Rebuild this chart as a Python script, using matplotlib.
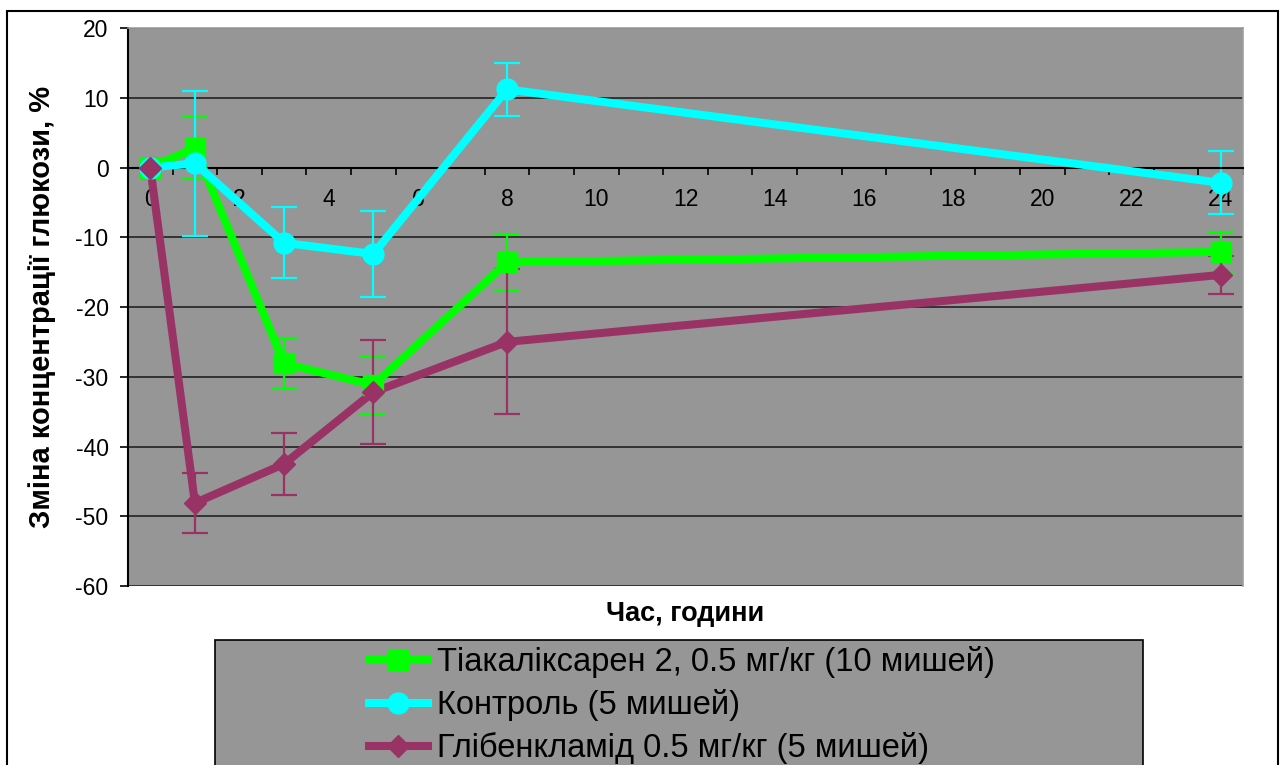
import matplotlib
matplotlib.use("Agg")
import matplotlib.pyplot as plt
from matplotlib.patches import Rectangle
from matplotlib.lines import Line2D
import numpy as np

plt.rcParams['font.family'] = ['Liberation Sans', 'DejaVu Sans']

hours = [0, 1, 3, 5, 8, 24]

thia_vals = [0, 2.8, -28.1, -31.2, -13.6, -12.1]
thia_err = [0, 4.5, 3.7, 4.1, 4.1, 2.9]

ctrl_vals = [0, 0.6, -10.8, -12.4, 11.2, -2.2]
ctrl_err = [0, 10.4, 5.1, 6.1, 3.8, 4.5]

glib_vals = [0, -48.1, -42.5, -32.2, -25.0, -15.4]
glib_err = [0, 4.3, 4.4, 7.5, 10.4, 2.7]

labels = ["Тіакаліксарен 2, 0.5 мг/кг (10 мишей)",
          "Контроль (5 мишей)",
          "Глібенкламід 0.5 мг/кг (5 мишей)"]
x_tick_labels = [str(v) for v in range(0, 25, 2)]
y_ticks = list(range(-60, 21, 10))

series = [
    (thia_vals, thia_err, '#00FF00', 's', 15),
    (ctrl_vals, ctrl_err, '#00FFFF', 'o', 15),
    (glib_vals, glib_err, '#993366', 'D', 11),
]

W, H = 1285, 765
fig = plt.figure(figsize=(W / 100, H / 100), dpi=100)
ax = fig.add_axes([128 / W, 1 - 586 / H, (1243 - 128) / W, (586 - 28) / H])
ax.set_facecolor('#969696')

# error bars first
for vals, err, col, mk, ms in series:
    ax.errorbar(hours, vals, yerr=err, fmt='none', ecolor=col, elinewidth=1.6,
                capsize=9.5, capthick=1.6, zorder=2, clip_on=False)
# lines
for vals, err, col, mk, ms in series:
    ax.plot(hours, vals, color=col, lw=5.8, zorder=3, solid_joinstyle='round', clip_on=False)
# markers
for vals, err, col, mk, ms in series:
    ax.plot(hours, vals, ls='none', marker=mk, ms=ms, color=col, mec=col, zorder=4, clip_on=False)

ax.set_xlim(-0.5, 24.5)
ax.set_ylim(-60, 20)
ax.set_yticks(y_ticks)
ax.set_yticklabels([str(v) for v in y_ticks], fontsize=16.5)
ax.yaxis.grid(True, color='#222222', lw=1.2)
ax.set_axisbelow(True)

ax.spines['bottom'].set_position(('data', 0))
ax.spines['bottom'].set_linewidth(1.5)
ax.spines['left'].set_linewidth(1.5)
for s in ['top', 'right']:
    ax.spines[s].set_color('#a0a0a0')
    ax.spines[s].set_linewidth(1.2)

# ticks at half integers, labels at even integers
ax.set_xticks(np.arange(0.5, 24.6, 1.0))
ax.set_xticklabels([])
ax.tick_params(axis='x', which='major', direction='out', length=5, width=1.2)
ax.set_xticks(list(range(0, 25, 2)), minor=True)
ax.set_xticklabels(x_tick_labels, minor=True, fontsize=16.5)
ax.tick_params(axis='x', which='minor', length=0, pad=15)
ax.tick_params(axis='y', direction='out', length=6, width=1.2, pad=8)

ax.set_xlabel("Час, години", fontsize=19.5, fontweight='bold')
ax.xaxis.set_label_coords(0.5, -0.05)
ax.xaxis.label.set_va('center')
ax.set_ylabel("Зміна концентрації глюкози, %", fontsize=21, fontweight='bold')
ax.yaxis.set_label_coords(-0.077, 0.5)
ax.yaxis.label.set_va('center')

# figure border
fig.add_artist(Rectangle((7 / W, -0.05), (1278 - 7) / W, 1 - 11 / H + 0.05,
                         transform=fig.transFigure, fill=False, ec='black', lw=1.5,
                         clip_on=False))
# legend box
fig.add_artist(Rectangle((215 / W, -0.05), (1143 - 215) / W, 1 - 640 / H + 0.05,
                         transform=fig.transFigure, fc='#969696', ec='black', lw=1.2,
                         clip_on=False))

handles = [Line2D([], [], color=col, lw=5.8, marker=mk, ms=ms, mec=col)
           for vals, err, col, mk, ms in series]
fig.legend(handles, labels, loc='upper left', bbox_to_anchor=(369 / W, 1 - 646 / H),
           frameon=False, fontsize=23.5, handlelength=1.8, handletextpad=0.28,
           labelspacing=0.34, borderpad=0, borderaxespad=0)

fig.savefig('out.png', dpi=100)
